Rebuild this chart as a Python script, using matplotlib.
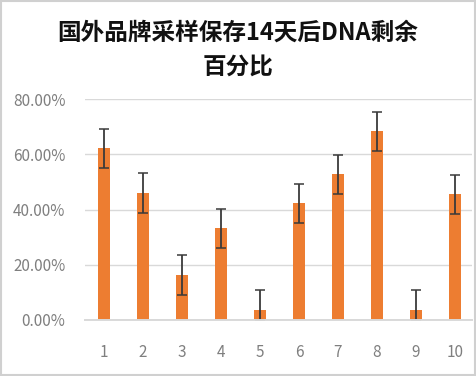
import matplotlib.pyplot as plt
from matplotlib.patches import Rectangle
from matplotlib.ticker import FuncFormatter

# 数据（百分比）
samples = ['1', '2', '3', '4', '5', '6', '7', '8', '9', '10']
remain = [62.3, 46.0, 16.3, 33.3, 3.6, 42.3, 52.8, 68.4, 3.6, 45.6]
err = [7.1, 7.1, 7.1, 7.1, 7.1, 7.1, 7.1, 7.1, 7.1, 7.1]
yticks = [0, 20, 40, 60, 80]

plt.rcParams['font.family'] = ['Noto Sans CJK SC', 'DejaVu Sans']

fig = plt.figure(figsize=(4.76, 3.76), dpi=100)
ax = fig.add_axes([0.1785, 0.149, 0.813, 0.587])

x = list(range(1, len(samples) + 1))
lower = [min(e, v) for e, v in zip(err, remain)]
ax.bar(x, remain, width=0.33, color='#ED7D31', zorder=2)
ax.errorbar(x, remain, yerr=[lower, err], fmt='none', ecolor='#3a3a3a',
            elinewidth=1.3, capsize=3.3, capthick=1.1, zorder=3)

ax.set_xlim(0.513, 10.436)
ax.set_ylim(0, 80)
ax.set_yticks(yticks)
ax.yaxis.set_major_formatter(FuncFormatter(lambda v, p: '%.2f%%' % v))
ax.set_xticks(x)
ax.set_xticklabels(samples)
ax.grid(axis='y', color='#d9d9d9', linewidth=1, zorder=0)
for s in ['top', 'right', 'left']:
    ax.spines[s].set_visible(False)
ax.spines['bottom'].set_color('#d9d9d9')
ax.spines['bottom'].set_linewidth(1.4)
ax.spines['bottom'].set_zorder(4)
ax.tick_params(axis='both', length=0, colors='#7f7f7f', labelsize=11)
ax.tick_params(axis='y', pad=14)
ax.tick_params(axis='x', pad=17)
for lab in ax.get_xticklabels() + ax.get_yticklabels():
    lab.set_fontweight('light')

fig.text(0.5, 0.912, '国外品牌采样保存14天后DNA剩余', ha='center', va='center',
         fontsize=17, fontweight='bold', color='#111111')
fig.text(0.5, 0.823, '百分比', ha='center', va='center',
         fontsize=17, fontweight='bold', color='#111111')

# 图表外框
fig.patches.append(Rectangle((0.003, 0.003), 0.994, 0.994, transform=fig.transFigure,
                             fill=False, edgecolor='#d0d0d0', linewidth=1.5))

fig.savefig('out.png', dpi=100)
